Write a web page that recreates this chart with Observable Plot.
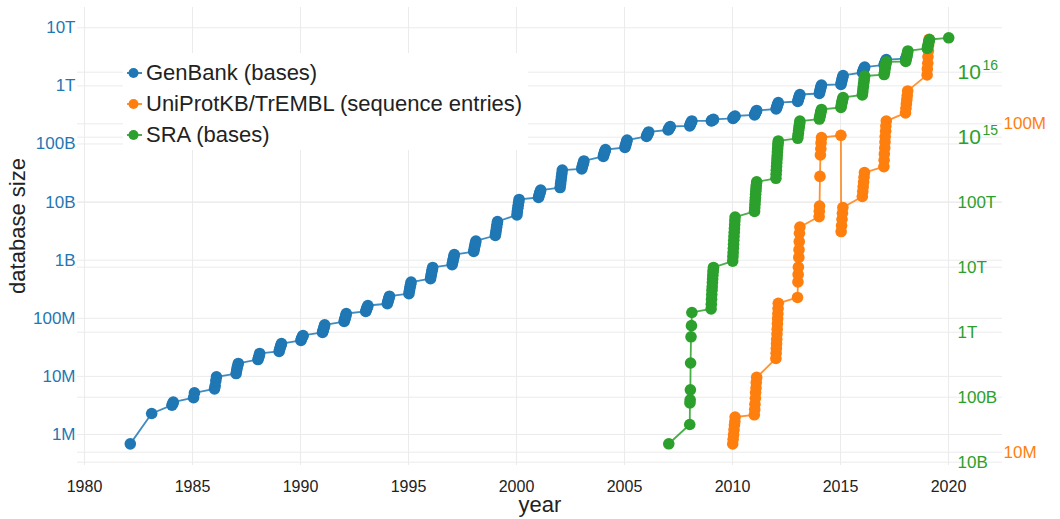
<!DOCTYPE html>
<html>
<head>
<meta charset="utf-8">
<script src="https://cdn.jsdelivr.net/npm/d3@7"></script>
<script src="https://cdn.jsdelivr.net/npm/@observablehq/plot@0.6"></script>
<style>
  html, body { margin: 0; padding: 0; background: #fff; }
  #wrap { position: relative; width: 1060px; height: 519px; font-family: "Liberation Sans", Arial, sans-serif; }
  #legend { position: absolute; left: 123px; top: 53px; width: 405px; height: 97px; background: #fff; }
  .li { position: absolute; left: 0; height: 26px; line-height: 26px; font-size: 22px; color: #222; white-space: nowrap; }
  .li svg { position: absolute; left: 0; top: 0; }
  .li span { position: absolute; left: 23px; top: 0; }
  #ylabel { position: absolute; left: 18px; top: 226px; width: 0; height: 0; }
  #ylabel div { position: absolute; left: 0; top: 0; transform: translate(-50%, -50%) rotate(-90deg); font-size: 22px; line-height: 26px; color: #222; white-space: nowrap; }
</style>
</head>
<body>
<div id="wrap"></div>
<script>
// ---------- data (x = year + month/100, value) ----------
const genbank = [
  [1982.12,6.9e5],[1983.11,2.3e6],
  [1984.05,3.2e6],[1984.09,3.4e6],[1984.11,3.6e6],
  [1985.05,4.3e6],[1985.09,5.2e6],
  [1986.02,6.1e6],[1986.05,6.9e6],[1986.08,8.4e6],[1986.11,9.8e6],
  [1987.02,1.12e7],[1987.05,1.30e7],[1987.08,1.48e7],[1987.12,1.67e7],
  [1988.03,1.95e7],[1988.06,2.10e7],[1988.09,2.28e7],[1988.11,2.48e7],
  [1989.01,2.69e7],[1989.04,2.95e7],[1989.07,3.24e7],[1989.10,3.48e7],[1989.12,3.68e7],
  [1990.02,4.15e7],[1990.04,4.38e7],[1990.06,4.55e7],[1990.08,4.76e7],[1990.10,4.92e7],[1990.12,5.06e7],
  [1991.02,5.7e7],[1991.04,6.05e7],[1991.06,6.4e7],[1991.08,6.8e7],[1991.10,7.25e7],[1991.12,7.7e7],
  [1992.02,8.8e7],[1992.04,9.3e7],[1992.06,9.9e7],[1992.08,1.05e8],[1992.10,1.12e8],[1992.12,1.21e8],
  [1993.02,1.31e8],[1993.04,1.37e8],[1993.06,1.44e8],[1993.08,1.51e8],[1993.10,1.58e8],[1993.12,1.66e8],
  [1994.02,1.78e8],[1994.04,1.90e8],[1994.06,2.02e8],[1994.08,2.14e8],[1994.10,2.27e8],[1994.12,2.40e8],
  [1995.02,2.65e8],[1995.04,2.95e8],[1995.06,3.25e8],[1995.08,3.55e8],[1995.10,3.85e8],[1995.12,4.20e8],
  [1996.02,4.8e8],[1996.04,5.3e8],[1996.06,5.8e8],[1996.08,6.4e8],[1996.10,6.9e8],[1996.12,7.5e8],
  [1997.02,8.4e8],[1997.04,9.1e8],[1997.06,9.9e8],[1997.08,1.07e9],[1997.10,1.16e9],[1997.12,1.25e9],
  [1998.02,1.41e9],[1998.04,1.54e9],[1998.06,1.68e9],[1998.08,1.83e9],[1998.10,1.98e9],[1998.12,2.14e9],
  [1999.02,2.66e9],[1999.04,2.95e9],[1999.06,3.3e9],[1999.08,3.7e9],[1999.10,4.15e9],[1999.12,4.63e9],
  [2000.02,6.0e9],[2000.04,6.9e9],[2000.06,7.8e9],[2000.08,8.8e9],[2000.10,9.9e9],[2000.12,1.11e10],
  [2001.02,1.20e10],[2001.04,1.28e10],[2001.06,1.36e10],[2001.08,1.44e10],[2001.10,1.52e10],[2001.12,1.61e10],
  [2002.02,1.78e10],[2002.04,2.05e10],[2002.06,2.35e10],[2002.08,2.7e10],[2002.10,3.1e10],[2002.12,3.56e10],
  [2003.02,3.72e10],[2003.04,4.0e10],[2003.06,4.25e10],[2003.08,4.5e10],[2003.10,4.8e10],[2003.12,5.1e10],
  [2004.02,6.1e10],[2004.04,6.5e10],[2004.06,6.9e10],[2004.08,7.25e10],[2004.10,7.6e10],[2004.12,8.0e10],
  [2005.02,8.7e10],[2005.04,9.2e10],[2005.06,9.8e10],[2005.08,1.04e11],[2005.10,1.10e11],[2005.12,1.17e11],
  [2006.02,1.35e11],[2006.04,1.40e11],[2006.06,1.45e11],[2006.08,1.50e11],[2006.10,1.55e11],[2006.12,1.61e11],
  [2007.02,1.74e11],[2007.04,1.79e11],[2007.06,1.84e11],[2007.08,1.89e11],[2007.10,1.94e11],[2007.12,2.00e11],
  [2008.02,2.05e11],[2008.04,2.14e11],[2008.06,2.24e11],[2008.08,2.32e11],[2008.10,2.41e11],[2008.12,2.49e11],
  [2009.02,2.50e11],[2009.04,2.53e11],[2009.06,2.56e11],[2009.08,2.59e11],[2009.10,2.62e11],[2009.12,2.65e11],
  [2010.02,2.75e11],[2010.04,2.80e11],[2010.06,2.86e11],[2010.08,2.92e11],[2010.10,2.97e11],[2010.12,3.03e11],
  [2011.02,3.16e11],[2011.04,3.27e11],[2011.06,3.40e11],[2011.08,3.52e11],[2011.10,3.65e11],[2011.12,3.78e11],
  [2012.02,4.00e11],[2012.04,4.20e11],[2012.06,4.43e11],[2012.08,4.67e11],[2012.10,4.91e11],[2012.12,5.17e11],
  [2013.02,5.38e11],[2013.04,5.70e11],[2013.06,6.05e11],[2013.08,6.40e11],[2013.10,6.75e11],[2013.12,7.11e11],
  [2014.02,7.40e11],[2014.04,7.95e11],[2014.06,8.55e11],[2014.08,9.15e11],[2014.10,9.75e11],[2014.12,1.035e12],
  [2015.02,1.06e12],[2015.04,1.14e12],[2015.06,1.23e12],[2015.08,1.32e12],[2015.10,1.41e12],[2015.12,1.51e12],
  [2016.02,1.70e12],[2016.04,1.78e12],[2016.06,1.86e12],[2016.08,1.94e12],[2016.10,2.02e12],[2016.12,2.11e12],
  [2017.02,2.29e12],[2017.04,2.40e12],[2017.06,2.50e12],[2017.08,2.61e12],[2017.10,2.72e12],[2017.12,2.84e12],
  [2018.02,2.95e12],[2018.04,3.05e12],[2018.06,3.15e12]
];
const uniprot = [
  [2010.01,1.06e7],[2010.03,1.095e7],[2010.05,1.13e7],[2010.07,1.17e7],[2010.09,1.21e7],[2010.11,1.24e7],[2010.12,1.28e7],
  [2011.01,1.30e7],[2011.03,1.35e7],[2011.04,1.40e7],[2011.06,1.46e7],[2011.07,1.52e7],[2011.09,1.57e7],[2011.10,1.63e7],[2011.12,1.69e7],
  [2012.01,1.93e7],[2012.02,2.00e7],[2012.03,2.07e7],[2012.04,2.14e7],[2012.05,2.21e7],[2012.06,2.29e7],[2012.07,2.37e7],[2012.08,2.46e7],[2012.09,2.55e7],[2012.10,2.64e7],[2012.11,2.74e7],[2012.12,2.84e7],
  [2013.01,2.96e7],[2013.03,3.30e7],[2013.04,3.48e7],[2013.05,3.66e7],[2013.07,3.92e7],[2013.08,4.14e7],[2013.09,4.38e7],[2013.10,4.64e7],[2013.12,4.85e7],
  [2014.01,5.22e7],[2014.02,5.42e7],[2014.03,5.62e7],[2014.05,6.92e7],[2014.07,8.04e7],[2014.09,8.4e7],[2014.10,8.75e7],[2014.12,9.09e7],
  [2015.02,9.23e7],[2015.03,4.70e7],[2015.05,4.90e7],[2015.07,5.12e7],[2015.09,5.34e7],[2015.11,5.56e7],
  [2016.01,6.01e7],[2016.03,6.22e7],[2016.05,6.43e7],[2016.07,6.65e7],[2016.09,6.88e7],[2016.11,7.11e7],
  [2017.01,7.41e7],[2017.02,7.75e7],[2017.03,8.10e7],[2017.05,8.45e7],[2017.06,8.80e7],[2017.07,9.15e7],[2017.09,9.50e7],[2017.10,9.85e7],[2017.12,1.02e8],
  [2018.01,1.08e8],[2018.03,1.115e8],[2018.05,1.15e8],[2018.07,1.185e8],[2018.09,1.22e8],[2018.11,1.26e8],
  [2019.01,1.41e8],[2019.02,1.47e8],[2019.04,1.53e8],[2019.05,1.60e8],[2019.07,1.67e8],[2019.08,1.74e8],[2019.10,1.81e8]
];
const sra = [
  [2007.05,1.92e10],
  [2008.02,3.8e10],[2008.03,8.15e10],[2008.04,9.1e10],[2008.05,1.30e11],[2008.06,3.36e11],[2008.08,8.49e11],[2008.10,1.26e12],[2008.12,2.01e12],
  [2009.01,2.28e12],[2009.02,2.7e12],[2009.03,3.2e12],[2009.04,3.8e12],[2009.05,4.4e12],[2009.06,5.0e12],[2009.07,5.8e12],[2009.08,6.6e12],[2009.09,7.5e12],[2009.10,8.4e12],[2009.11,9.1e12],[2009.12,9.9e12],
  [2010.01,1.24e13],[2010.02,1.45e13],[2010.03,1.68e13],[2010.04,1.95e13],[2010.05,2.25e13],[2010.06,2.6e13],[2010.07,3.0e13],[2010.08,3.45e13],[2010.09,3.95e13],[2010.10,4.5e13],[2010.11,5.2e13],[2010.12,5.9e13],
  [2011.02,7.2e13],[2011.03,8.2e13],[2011.04,9.3e13],[2011.05,1.05e14],[2011.06,1.18e14],[2011.07,1.32e14],[2011.08,1.47e14],[2011.09,1.63e14],[2011.10,1.80e14],[2011.12,2.05e14],
  [2012.01,2.33e14],[2012.02,2.7e14],[2012.03,3.1e14],[2012.04,3.55e14],[2012.05,4.05e14],[2012.06,4.6e14],[2012.07,5.2e14],[2012.08,5.9e14],[2012.09,6.6e14],[2012.10,7.4e14],[2012.11,8.1e14],[2012.12,8.75e14],
  [2013.02,9.62e14],[2013.03,1.05e15],[2013.05,1.15e15],[2013.06,1.26e15],[2013.08,1.38e15],[2013.09,1.50e15],[2013.11,1.63e15],[2013.12,1.77e15],
  [2014.02,1.90e15],[2014.04,2.0e15],[2014.05,2.12e15],[2014.07,2.25e15],[2014.08,2.38e15],[2014.10,2.52e15],[2014.12,2.67e15],
  [2015.02,2.86e15],[2015.04,3.05e15],[2015.05,3.25e15],[2015.07,3.45e15],[2015.08,3.65e15],[2015.10,3.87e15],[2015.12,4.08e15],
  [2016.01,4.46e15],[2016.03,4.95e15],[2016.04,5.5e15],[2016.06,6.1e15],[2016.07,6.7e15],[2016.09,7.4e15],[2016.10,8.0e15],[2016.12,8.74e15],
  [2017.02,9.2e15],[2017.04,1.0e16],[2017.05,1.09e16],[2017.07,1.18e16],[2017.08,1.27e16],[2017.10,1.35e16],[2017.12,1.44e16],
  [2018.02,1.46e16],[2018.04,1.58e16],[2018.06,1.70e16],[2018.08,1.83e16],[2018.10,1.97e16],[2018.12,2.12e16],
  [2019.02,2.32e16],[2019.04,2.48e16],[2019.06,2.65e16],[2019.08,2.83e16],[2019.10,3.0e16],[2019.12,3.18e16],
  [2020.01,3.38e16]
];

// ---------- ticks ----------
const yearTicks = [1980, 1985, 1990, 1995, 2000, 2005, 2010, 2015, 2020];
const genbankTicks = [1e6, 1e7, 1e8, 1e9, 1e10, 1e11, 1e12, 1e13];
const genbankTickLabels = ["1M", "10M", "100M", "1B", "10B", "100B", "1T", "10T"];
const sraTicks = [1e10, 1e11, 1e12, 1e13, 1e14];
const sraTickLabels = ["10B", "100B", "1T", "10T", "100T"];
const sraPowTicks = [1e15, 1e16];
const sraPowExponents = ["15", "16"];
const uniprotTicks = [1e7, 1e8];
const uniprotTickLabels = ["10M", "100M"];
const seriesNames = ["GenBank (bases)", "UniProtKB/TrEMBL (sequence entries)", "SRA (bases)"];
const seriesColors = ["#1f77b4", "#ff7f0e", "#2ca02c"];

// ---------- secondary axis transforms (into the primary log scale) ----------
const sraToY = v => 10 ** (6 + (362.3 - 65 * (16 - Math.log10(v))) / 58.1);
const uniToY = v => 10 ** (6 + (-17.7 + 328.3 * (Math.log10(v) - 7)) / 58.1);

const [cBlue, cOrange, cGreen] = seriesColors;
const grid = "#ebebeb";

const chart = Plot.plot({
  width: 1060, height: 519,
  marginTop: 7, marginBottom: 54, marginLeft: 77, marginRight: 58,
  x: {domain: [1979.676, 2022.5]},
  y: {type: "log", domain: [10 ** 5.4664, 10 ** 13.349]},
  style: {fontFamily: '"Liberation Sans", Arial, sans-serif', background: "#fff"},
  marks: [
    Plot.ruleX(yearTicks, {stroke: grid, strokeWidth: 1}),
    Plot.ruleY(genbankTicks, {stroke: grid, strokeWidth: 1}),
    Plot.ruleY([...sraTicks, ...sraPowTicks], {y: d => sraToY(d), stroke: grid, strokeWidth: 1}),
    Plot.ruleY(uniprotTicks, {y: d => uniToY(d), stroke: grid, strokeWidth: 1}),
    Plot.axisX({ticks: yearTicks, tickFormat: d => String(d), tickSize: 0, tickPadding: 15, fontSize: 16, fill: "#222", label: null}),
    Plot.axisY({anchor: "left", ticks: genbankTicks, tickFormat: d => genbankTickLabels[genbankTicks.indexOf(d)], tickSize: 0, tickPadding: 2, fontSize: 17, fill: cBlue, label: null}),
    Plot.text(sraTicks, {y: d => sraToY(d), text: (d, i) => sraTickLabels[i], frameAnchor: "right", dx: -45, textAnchor: "start", fontSize: 17, fill: cGreen}),
    Plot.text(sraPowTicks, {y: d => sraToY(d), text: () => "10", frameAnchor: "right", dx: -45, textAnchor: "start", fontSize: 21, fill: cGreen}),
    Plot.text(sraPowTicks, {y: d => sraToY(d), text: (d, i) => sraPowExponents[i], frameAnchor: "right", dx: -20, dy: -7, textAnchor: "start", fontSize: 14, fill: cGreen}),
    Plot.text(uniprotTicks, {y: d => uniToY(d), text: (d, i) => uniprotTickLabels[i], frameAnchor: "right", dx: 1, textAnchor: "start", fontSize: 17, fill: cOrange}),
    Plot.text(["year"], {frameAnchor: "bottom", dy: 46, fontSize: 22, fill: "#222"}),
    Plot.line(genbank, {x: d => d[0], y: d => d[1], stroke: cBlue, strokeWidth: 1.8, strokeOpacity: 0.85}),
    Plot.dot(genbank, {x: d => d[0], y: d => d[1], r: 5.8, fill: cBlue}),
    Plot.line(uniprot, {x: d => d[0], y: d => uniToY(d[1]), stroke: cOrange, strokeWidth: 1.8, strokeOpacity: 0.85}),
    Plot.dot(uniprot, {x: d => d[0], y: d => uniToY(d[1]), r: 5.8, fill: cOrange}),
    Plot.line(sra, {x: d => d[0], y: d => sraToY(d[1]), stroke: cGreen, strokeWidth: 1.8, strokeOpacity: 0.85}),
    Plot.dot(sra, {x: d => d[0], y: d => sraToY(d[1]), r: 5.8, fill: cGreen})
  ]
});

const wrap = document.getElementById("wrap");
wrap.appendChild(chart);

// y-axis title
const ylab = document.createElement("div");
ylab.id = "ylabel";
ylab.innerHTML = "<div>database size</div>";
wrap.appendChild(ylab);

// legend
const legend = document.createElement("div");
legend.id = "legend";
const centers = [20, 51, 82];
seriesNames.forEach((name, i) => {
  const row = document.createElement("div");
  row.className = "li";
  row.style.top = (centers[i] - 13) + "px";
  row.innerHTML = `<svg width="22" height="26"><line x1="4" x2="19" y1="13" y2="13" stroke="${seriesColors[i]}" stroke-width="2" stroke-opacity="0.85"/><circle cx="10.5" cy="13" r="5" fill="${seriesColors[i]}"/></svg><span>${name}</span>`;
  legend.appendChild(row);
});
wrap.appendChild(legend);
</script>
</body>
</html>
